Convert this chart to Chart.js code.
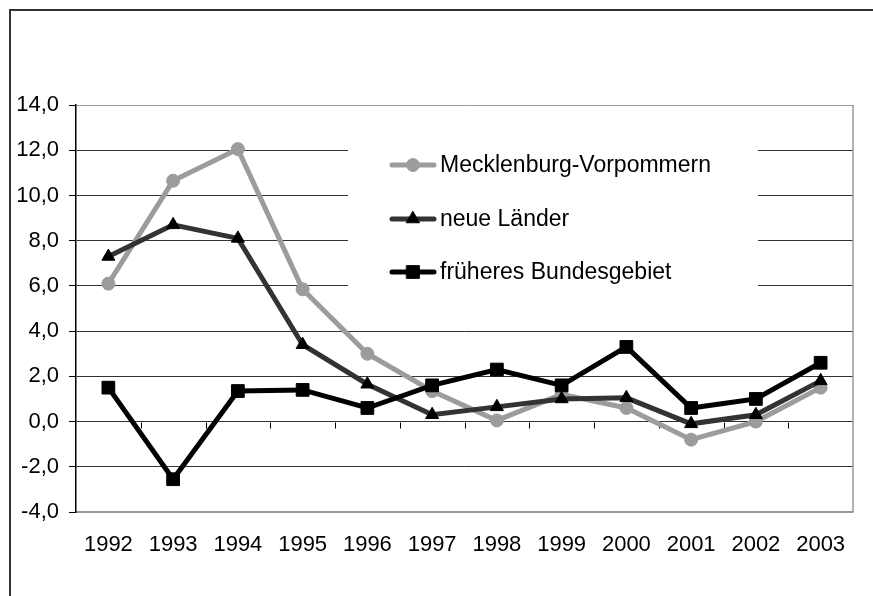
<!DOCTYPE html>
<html lang="de">
  <head>
    <meta charset="UTF-8" />
    <title>Mecklenburg-Vorpommern</title>
    <script src="https://cdn.jsdelivr.net/npm/chart.js"></script>
    <style>
      html, body { margin: 0; padding: 0; background: #fff; }
      #wrap { width: 873px; height: 596px; }
    </style>
  </head>
  <body>
    <div id="wrap"><canvas id="myChart" width="873" height="596"></canvas></div>
    <script>
      // data
      const years = ["1992", "1993", "1994", "1995", "1996", "1997", "1998", "1999", "2000", "2001", "2002", "2003"];
      const mvValues = [6.1, 10.65, 12.05, 5.85, 3.0, 1.35, 0.05, 1.2, 0.6, -0.8, 0.0, 1.5];
      const nlValues = [7.3, 8.7, 8.1, 3.4, 1.65, 0.3, 0.65, 1.0, 1.05, -0.1, 0.3, 1.8];
      const fbValues = [1.5, -2.55, 1.35, 1.4, 0.6, 1.6, 2.3, 1.6, 3.3, 0.6, 1.0, 2.6];
      const yMin = -4, yMax = 14, yStep = 2;

      const FONT = "'Liberation Sans', Arial, sans-serif";

      const seriesStyle = [
        { label: "Mecklenburg-Vorpommern", line: "#9c9c9c", mark: "#9c9c9c", style: "circle", r: 6.5 },
        { label: "neue Länder", line: "#333333", mark: "#000000", style: "triangle", r: 7.5 },
        { label: "früheres Bundesgebiet", line: "#000000", mark: "#000000", style: "rect", r: 9 }
      ];

      // outer frame (cut off right and bottom in the original)
      const framePlugin = {
        id: "frame",
        beforeDraw(chart) {
          const c = chart.ctx;
          c.save();
          c.fillStyle = "#fff";
          c.fillRect(0, 0, chart.width, chart.height);
          c.strokeStyle = "#333";
          c.lineWidth = 2;
          c.beginPath();
          c.moveTo(chart.width, 10);
          c.lineTo(10, 10);
          c.lineTo(10, chart.height);
          c.stroke();
          c.restore();
        },
        afterDraw(chart) {
          // grey plot border right side
          const a = chart.chartArea, c = chart.ctx;
          c.save();
          c.strokeStyle = "#999";
          c.lineWidth = 1.5;
          c.beginPath();
          c.moveTo(a.right, a.top);
          c.lineTo(a.right, a.bottom);
          c.stroke();
          c.restore();
        }
      };

      // x tick marks sit on the zero line
      const zeroTicks = {
        id: "zeroTicks",
        beforeDatasetsDraw(chart) {
          const x = chart.scales.x, y = chart.scales.y, c = chart.ctx;
          const y0 = Math.round(y.getPixelForValue(0)) + 0.5;
          c.save();
          c.strokeStyle = "#000";
          c.lineWidth = 1;
          c.beginPath();
          for (let i = 1; i < years.length; i++) {
            const px = Math.round((x.getPixelForValue(i - 1) + x.getPixelForValue(i)) / 2) + 0.5;
            c.moveTo(px, y0);
            c.lineTo(px, y0 + 6);
          }
          c.stroke();
          c.restore();
        }
      };

      // legend box inside the plot
      const boxLegend = {
        id: "boxLegend",
        beforeDatasetsDraw(chart) {
          const c = chart.ctx;
          c.save();
          c.fillStyle = "#fff";
          c.fillRect(348, 128, 410, 178);
          const rows = [165, 219, 272];
          seriesStyle.forEach((s, i) => {
            const yy = rows[i];
            c.strokeStyle = s.line;
            c.lineWidth = 5;
            c.lineCap = "round";
            c.beginPath();
            c.moveTo(392, yy);
            c.lineTo(434, yy);
            c.stroke();
            c.fillStyle = s.mark;
            c.strokeStyle = s.mark;
            c.lineWidth = 1;
            Chart.helpers.drawPoint(c, { pointStyle: s.style, radius: s.r, rotation: 0, borderWidth: 1 }, 413, yy);
            c.fillStyle = "#000";
            c.font = "23px " + FONT;
            c.textBaseline = "middle";
            c.textAlign = "left";
            c.fillText(s.label, 440, yy + 1);
          });
          c.restore();
        }
      };

      const allValues = [mvValues, nlValues, fbValues];

      new Chart(document.getElementById("myChart"), {
        type: "line",
        data: {
          labels: years,
          datasets: seriesStyle.map((s, i) => ({
            label: s.label,
            data: allValues[i],
            borderColor: s.line,
            borderWidth: 5,
            backgroundColor: s.mark,
            pointBackgroundColor: s.mark,
            pointBorderColor: s.mark,
            pointBorderWidth: 1,
            pointStyle: s.style,
            pointRadius: s.r,
            tension: 0,
            order: 3 - i
          }))
        },
        options: {
          responsive: false,
          animation: false,
          devicePixelRatio: 1,
          layout: { padding: { top: 105, right: 20, left: 0, bottom: 0 } },
          plugins: {
            legend: { display: false },
            tooltip: { enabled: false }
          },
          scales: {
            x: {
              offset: true,
              grid: { display: false, drawTicks: false },
              border: { display: true, color: "#999", width: 1.5 },
              ticks: {
                autoSkip: false,
                maxRotation: 0,
                padding: 20,
                color: "#000",
                font: { family: FONT, size: 22 }
              },
              afterFit(scale) { scale.height = 84; }
            },
            y: {
              min: yMin,
              max: yMax,
              grid: {
                color: ctx => (ctx.tick && (ctx.tick.value === yMax || ctx.tick.value === yMin)) ? "#999" : "#333",
                lineWidth: 1,
                drawTicks: true,
                tickLength: 7,
                tickColor: "#000"
              },
              border: { display: true, color: "#000", width: 1.5 },
              ticks: {
                stepSize: yStep,
                padding: 10,
                color: "#000",
                font: { family: FONT, size: 22 },
                callback: v => v.toFixed(1).replace(".", ",")
              },
              afterFit(scale) { scale.width = 76; }
            }
          }
        },
        plugins: [framePlugin, zeroTicks, boxLegend]
      });
    </script>
  </body>
</html>
